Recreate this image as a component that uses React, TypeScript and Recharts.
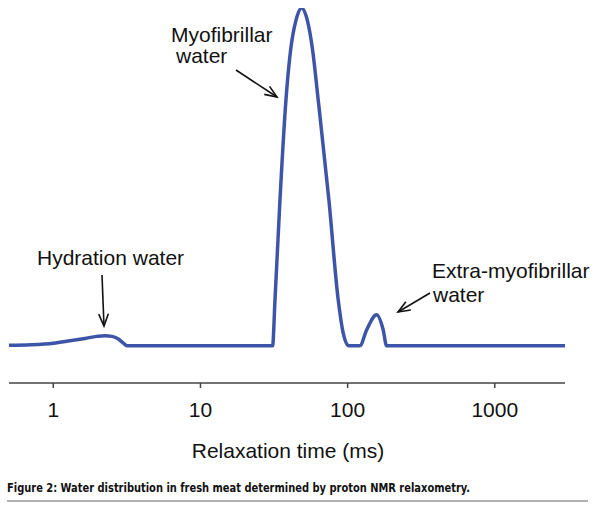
import React from 'react';
import { LineChart, Line, XAxis, YAxis } from 'recharts';

// relaxation times (ms)
const times = [
  0.5, 0.7, 1.0, 1.3, 1.64, 1.98, 2.24, 2.5, 2.75, 2.98, 3.17,
  30.9, 32.1, 34.7, 38.1, 41.0, 44.6, 48.7, 53.2, 57.8, 63.1, 74.6, 86.3, 93.3, 102,
  121, 134.6, 157.4, 174.5, 184,
  3000,
];

// relative signal intensity (peak = 100)
const intensity = [
  0.15, 0.3, 0.75, 1.5, 2.2, 2.8, 3.0, 2.8, 2.1, 0.9, 0,
  0, 13.6, 43.2, 72.8, 87.6, 96.4, 100, 96.4, 87.6, 72.8, 43.2, 13.6, 3.8, 0,
  0, 4.7, 9.2, 4.7, 0,
  0,
];

const xTicks = [1, 10, 100, 1000];

const data = times.map((t, i) => ({ t, v: intensity[i] }));

const FONT = '"Liberation Sans", Arial, Helvetica, sans-serif';

type ArrowProps = { x1: number; y1: number; x2: number; y2: number };

const Arrow: React.FC<ArrowProps> = ({ x1, y1, x2, y2 }) => {
  const ang = Math.atan2(y1 - y2, x1 - x2);
  const len = 13;
  const spread = 0.38;
  const a = { x: x2 + len * Math.cos(ang + spread), y: y2 + len * Math.sin(ang + spread) };
  const b = { x: x2 + len * Math.cos(ang - spread), y: y2 + len * Math.sin(ang - spread) };
  return (
    <g stroke="#111" strokeWidth={1.6} fill="none">
      <line x1={x1} y1={y1} x2={x2} y2={y2} />
      <polyline points={`${a.x},${a.y} ${x2},${y2} ${b.x},${b.y}`} />
    </g>
  );
};

export default function App() {
  return (
    <div style={{ position: 'absolute', left: 0, top: 0, width: 600, height: 505, background: '#fff' }}>
      <LineChart
        width={600}
        height={430}
        data={data}
        margin={{ top: 8, right: 35, left: 9, bottom: 0 }}
      >
        <XAxis
          dataKey="t"
          type="number"
          scale="log"
          domain={[0.5, 3000]}
          ticks={xTicks}
          allowDataOverflow
          height={47}
          stroke="#444"
          strokeWidth={1.5}
          tickSize={5}
          tickMargin={14}
          tick={{ fill: '#111', fontSize: 21, fontFamily: FONT }}
        />
        <YAxis hide domain={[-11, 100]} allowDataOverflow />
        <Line
          type="monotone"
          dataKey="v"
          stroke="#3d55a8"
          strokeWidth={3.5}
          dot={false}
          isAnimationActive={false}
        />
      </LineChart>
      <svg
        width={600}
        height={505}
        style={{ position: 'absolute', left: 0, top: 0, pointerEvents: 'none' }}
      >
        <g fontFamily={FONT} fontSize={21} fill="#111">
          <text x={171} y={42}>Myofibrillar</text>
          <text x={176} y={63}>water</text>
          <text x={37} y={265}>Hydration water</text>
          <text x={432} y={278}>Extra-myofibrillar</text>
          <text x={433} y={302}>water</text>
          <text x={288} y={458} textAnchor="middle">Relaxation time (ms)</text>
        </g>
        <Arrow x1={236} y1={70} x2={277} y2={97} />
        <Arrow x1={102} y1={275} x2={104} y2={326} />
        <Arrow x1={430} y1={293} x2={398} y2={312} />
        <text
          x={7}
          y={492}
          fontFamily='"DejaVu Sans Condensed", "DejaVu Sans", sans-serif'
          fontWeight="bold"
          fontSize={13}
          fill="#111"
          textLength={463}
          lengthAdjust="spacingAndGlyphs"
        >
          Figure 2: Water distribution in fresh meat determined by proton NMR relaxometry.
        </text>
        <line x1={7} y1={501} x2={588} y2={501} stroke="#b0b0b0" strokeWidth={2} />
      </svg>
    </div>
  );
}
